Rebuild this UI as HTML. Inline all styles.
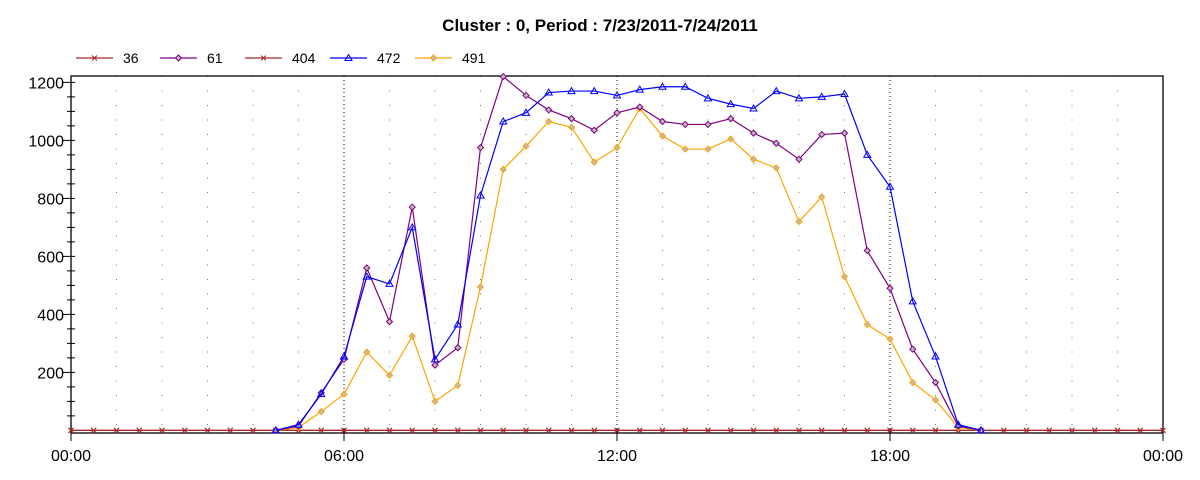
<!DOCTYPE html>
<html><head><meta charset="utf-8"><style>
body{margin:0;background:#fff;}
svg{display:block;font-family:"Liberation Sans",sans-serif;}
</style></head><body>
<svg id="chart" width="1200" height="480" xmlns="http://www.w3.org/2000/svg">
<text x="600" y="31" text-anchor="middle" font-size="17" font-weight="bold">Cluster : 0, Period : 7/23/2011-7/24/2011</text>
<g id="legend"></g>
<g id="grid"></g>
<g id="axes"></g>
<g id="series"></g>
</svg>
<script>
const seriesNames = ["36","61","404","472","491"];
const seriesColors = ["#a52a2a","#800080","#a52a2a","#0000ff","#ffa500"];
const seriesMarkers = ["x","diamond","x","triangle","diamond"];
const zeros = [0,0,0,0,0,0,0,0,0,0,0,0,0,0,0,0,0,0,0,0,0,0,0,0,0,0,0,0,0,0,0,0,0,0,0,0,0,0,0,0,0,0,0,0,0,0,0,0,0];
const s61 = [null,null,null,null,null,null,null,null,null,0,15,130,245,560,375,770,225,285,975,1220,1155,1105,1075,1035,1095,1115,1065,1055,1055,1075,1025,990,935,1020,1025,620,490,280,165,15,0];
const s472 = [null,null,null,null,null,null,null,null,null,0,20,125,255,530,505,700,245,365,810,1065,1095,1165,1170,1170,1155,1175,1185,1185,1145,1125,1110,1170,1145,1150,1160,950,840,445,255,20,0];
const s491 = [null,null,null,null,null,null,null,null,null,0,10,65,125,270,190,325,100,155,495,900,980,1065,1045,925,975,1110,1015,970,970,1005,935,905,720,805,530,365,315,165,105,10,0];
const yTicks = [200,400,600,800,1000,1200];
const xTickLabels = ["00:00","06:00","12:00","18:00","00:00"];
const seriesData = [zeros, s61, zeros, s472, s491];

const X0=71, X1=1163, YT=76, YB=433;
const yMin=-9, yMax=1222;
function xs(i){return X0+(X1-X0)*(i*0.5)/24;}
function ys(v){return YB-(v-yMin)/(yMax-yMin)*(YB-YT);}
const NS="http://www.w3.org/2000/svg";
function mk(tag,parent,attrs){const e=document.createElementNS(NS,tag);for(const k in attrs)e.setAttribute(k,attrs[k]);parent.appendChild(e);return e;}

const grid=document.getElementById('grid');
for(let h=1;h<24;h++){
  const x=X0+(X1-X0)*h/24; const major=h%6===0;
  const l=mk('line',grid,{x1:x,x2:x,y1:YT,y2:YB,stroke:major?'#000':'#777','stroke-width':1,'stroke-dasharray':major?'1,3':'1,13.5'});
  
  
}
const axes=document.getElementById('axes');
const frame=mk('rect',axes,{x:X0,y:YT,width:X1-X0,height:YB-YT,fill:'none',stroke:'#000','stroke-width':1.3});


for(let v=50;v<=1200;v+=50){
  const y=ys(v); const major=v%200===0;
  const t=mk('line',axes,{x1:major?X0-8:X0-4,x2:X0+4,y1:y,y2:y,stroke:'#000'});
  
  
}
yTicks.forEach(v=>{
  const t=mk('text',axes,{x:64,y:ys(v)+6,'text-anchor':'end','font-size':16});
  t.textContent=v;
  
  
});
xTickLabels.forEach((lab,i)=>{
  const x=X0+(X1-X0)*i/4;
  const tk=mk('line',axes,{x1:x,x2:x,y1:YB-4,y2:YB+8,stroke:'#000'});
  
  
  const t=mk('text',axes,{x:x,y:461,'text-anchor':'middle','font-size':16});
  t.textContent=lab;
  
  
});
function marker(g,type,x,y,c){
  if(type==='x'){
    mk('path',g,{d:`M${x-2.5},${y-2.5}L${x+2.5},${y+2.5}M${x-2.5},${y+2.5}L${x+2.5},${y-2.5}`,stroke:c,'stroke-width':1});
  }else if(type==='diamond'){
    mk('path',g,{d:`M${x},${y-3}L${x+3},${y}L${x},${y+3}L${x-3},${y}Z`,fill:'#bbb',stroke:c,'stroke-width':1});
  }else{
    mk('path',g,{d:`M${x},${y-3.5}L${x+3.5},${y+2.5}L${x-3.5},${y+2.5}Z`,fill:'none',stroke:c,'stroke-width':1});
  }
}
const sg=document.getElementById('series');
[0,2,4,1,3].forEach(si=>{
  const d=seriesData[si]; const c=seriesColors[si];
  const g=mk('g',sg,{});
  
  
  let p='';let first=true;
  d.forEach((v,i)=>{if(v===null)return;p+=(first?'M':'L')+xs(i)+','+ys(v);first=false;});
  mk('path',g,{d:p,fill:'none',stroke:c,'stroke-width':1.2});
  d.forEach((v,i)=>{if(v===null)return;marker(g,seriesMarkers[si],xs(i),ys(v),c);});
});
const lg=document.getElementById('legend');
const lx=[76,160,245,330,415];
seriesNames.forEach((n,i)=>{
  const g=mk('g',lg,{});
  
  
  mk('line',g,{x1:lx[i],x2:lx[i]+37,y1:58,y2:58,stroke:seriesColors[i],'stroke-width':1.2});
  marker(g,seriesMarkers[i],lx[i]+18.5,58,seriesColors[i]);
  const t=mk('text',g,{x:lx[i]+47,y:63,'font-size':14});
  t.textContent=n;
});
</script>
</body></html>
